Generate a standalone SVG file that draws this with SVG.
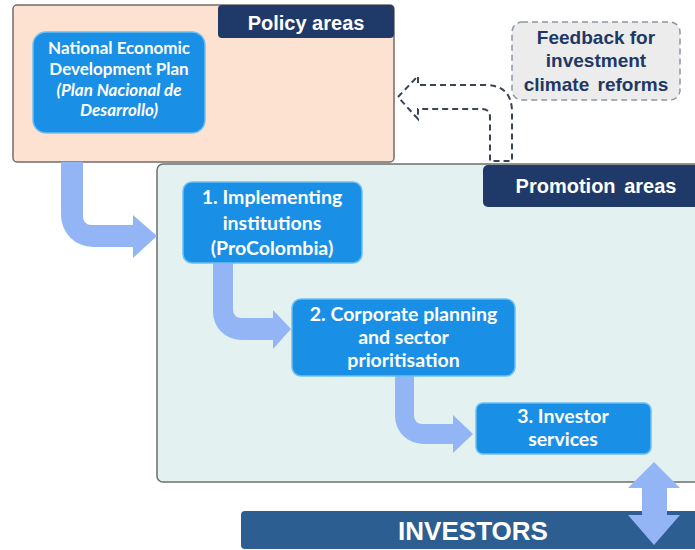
<svg xmlns="http://www.w3.org/2000/svg" width="695" height="550" viewBox="0 0 695 550">
  <style>
    .area { stroke: #6e6e6e; stroke-width: 1.5; }
    .tab { fill: #1f3a68; }
    .tabtext { font-family: "Liberation Sans", Arial, sans-serif; font-weight: bold; fill: #ffffff; text-anchor: middle; }
    .step { fill: #1a8fe6; stroke: #6cc0f4; stroke-width: 1.5; }
    .steptext { font-family: Lato, "Open Sans", sans-serif; font-weight: bold; fill: #ffffff; text-anchor: middle; }
    .flow { fill: #93b5f6; }
    .feedback { fill: none; stroke: #3a4456; stroke-width: 2; stroke-dasharray: 6 4; }
  </style>

  <!-- Policy area panel -->
  <g id="policy-areas">
    <rect class="area" x="13" y="5" width="381" height="157" rx="4" fill="#fde2d2"/>
    <rect class="tab" x="218" y="5" width="176" height="33" rx="4"/>
    <text class="tabtext" x="306" y="30" font-size="20">Policy areas</text>
  </g>

  <!-- Promotion area panel -->
  <g id="promotion-areas">
    <rect class="area" x="157" y="164" width="560" height="318" rx="6" fill="#e4f1f1"/>
    <rect class="tab" x="483" y="165" width="230" height="42" rx="5"/>
    <text class="tabtext" x="596" y="193" font-size="20" word-spacing="3">Promotion areas</text>
  </g>

  <!-- Investors bar -->
  <g id="investors">
    <rect x="241" y="511" width="470" height="38" rx="4" fill="#2c5e91"/>
    <text class="tabtext" x="473" y="540" font-size="26">INVESTORS</text>
  </g>

  <!-- Feedback note -->
  <g id="feedback-note">
    <rect x="512" y="22" width="168" height="78" rx="10" fill="#ececec" stroke="#8c96a2" stroke-width="1.5" stroke-dasharray="6 4"/>
    <g font-family="Liberation Sans, Arial, sans-serif" font-weight="bold" font-size="19" fill="#1f3864" text-anchor="middle">
      <text x="596" y="44">Feedback for</text>
      <text x="596" y="67">investment</text>
      <text x="596" y="91" word-spacing="3">climate reforms</text>
    </g>
  </g>

  <!-- Connectors -->
  <g id="connectors">
    <path class="flow" d="M61,162 L61,215 A32,32 0 0 0 93,247 L133,247 L133,258 L157,236 L133,215 L133,225 L91,225 A8,8 0 0 1 83,217 L83,162 Z"/>
    <path class="flow" d="M213,263 L213,312 A28,28 0 0 0 241,340 L273,340 L273,349 L291,329 L273,310 L273,318 L241,318 A8,8 0 0 1 233,310 L233,263 Z"/>
    <path class="flow" d="M395,376 L395,416 A28,28 0 0 0 423,444 L453,444 L453,453 L473,434 L453,415 L453,424 L422,424 A8,8 0 0 1 414,416 L414,376 Z"/>
    <path class="flow" d="M654,462 L680,488 L667,488 L667,515 L680,515 L654,545 L628,515 L642,515 L642,488 L628,488 Z"/>
    <path class="feedback" d="M398,97 L418,76 L418,85 L485,85 Q512,85 512,112 L512,161 L490,161 L490,117 Q490,109 482,109 L418,109 L418,119 Z"/>
  </g>

  <!-- Nodes -->
  <g id="national-plan">
    <rect class="step" x="33" y="32" width="172" height="101" rx="13"/>
    <g class="steptext" font-size="17">
      <text x="119" y="54">National Economic</text>
      <text x="119" y="75">Development Plan</text>
      <text x="119" y="96" font-style="italic">(Plan Nacional de</text>
      <text x="119" y="116" font-style="italic">Desarrollo)</text>
    </g>
  </g>

  <g id="step-1">
    <rect class="step" x="183" y="182" width="179" height="81" rx="9"/>
    <g class="steptext" font-size="19.5">
      <text x="272" y="204">1. Implementing</text>
      <text x="272" y="230">institutions</text>
      <text x="272" y="255">(ProColombia)</text>
    </g>
  </g>

  <g id="step-2">
    <rect class="step" x="292" y="299" width="223" height="77" rx="9"/>
    <g class="steptext" font-size="19.5">
      <text x="403.5" y="321">2. Corporate planning</text>
      <text x="403.5" y="344">and sector</text>
      <text x="403.5" y="367">prioritisation</text>
    </g>
  </g>

  <g id="step-3">
    <rect class="step" x="476" y="403" width="175" height="51" rx="7"/>
    <g class="steptext" font-size="19.5">
      <text x="563" y="423">3. Investor</text>
      <text x="563" y="446">services</text>
    </g>
  </g>
</svg>
